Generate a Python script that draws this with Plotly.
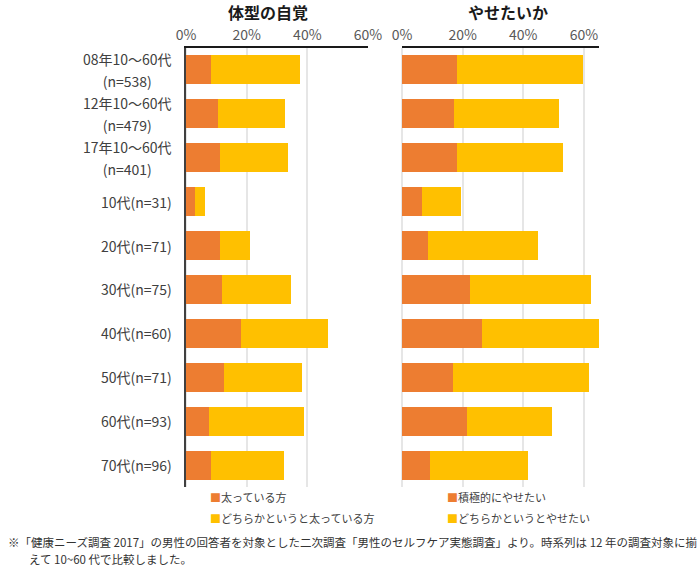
import plotly.graph_objects as go

FONT = "Noto Sans CJK JP"

categories = [
    "08年10～60代<br>(n=538)",
    "12年10～60代<br>(n=479)",
    "17年10～60代<br>(n=401)",
    "10代(n=31)",
    "20代(n=71)",
    "30代(n=75)",
    "40代(n=60)",
    "50代(n=71)",
    "60代(n=93)",
    "70代(n=96)",
]

# 体型の自覚 (%)
futotteiru = [8.2, 10.4, 11.2, 3.0, 11.2, 12.0, 18.2, 12.5, 7.6, 8.3]
dochiraka_futotteiru = [29.3, 22.3, 22.4, 3.3, 9.8, 22.5, 28.6, 25.7, 31.2, 24.1]

# やせたいか (%)
sekkyoku_yasetai = [18.0, 17.0, 18.0, 6.5, 8.5, 22.5, 26.5, 16.9, 21.5, 9.3]
dochiraka_yasetai = [41.6, 34.8, 35.2, 12.9, 36.4, 39.9, 38.4, 44.9, 27.9, 32.3]

left_names = ["太っている方", "どちらかというと太っている方"]
right_names = ["積極的にやせたい", "どちらかというとやせたい"]
panel_titles = ["体型の自覚", "やせたいか"]

tick_vals = [0, 20, 40, 60]
tick_text = ["0%", "20%", "40%", "60%"]

ORANGE = "#ED7D31"
YELLOW = "#FFC000"

W, H = 700, 570
def px(x):
    return x / W
def py(y):
    return 1 - y / H

fig = go.Figure()
fig.add_trace(go.Bar(y=categories, x=futotteiru, orientation="h", name=left_names[0],
                     marker=dict(color=ORANGE, line=dict(width=0)), xaxis="x", yaxis="y"))
fig.add_trace(go.Bar(y=categories, x=dochiraka_futotteiru, orientation="h", name=left_names[1],
                     marker=dict(color=YELLOW, line=dict(width=0)), xaxis="x", yaxis="y"))
fig.add_trace(go.Bar(y=categories, x=sekkyoku_yasetai, orientation="h", name=right_names[0],
                     marker=dict(color=ORANGE, line=dict(width=0)), xaxis="x2", yaxis="y2"))
fig.add_trace(go.Bar(y=categories, x=dochiraka_yasetai, orientation="h", name=right_names[1],
                     marker=dict(color=YELLOW, line=dict(width=0)), xaxis="x2", yaxis="y2"))

ydom = [py(487), py(48)]
xcommon = dict(side="top", tickvals=tick_vals, ticktext=tick_text,
               tickfont=dict(family=FONT, size=14, color="#595959"),
               showgrid=True, gridcolor="#e6e6e6", gridwidth=1.5,
               zeroline=True, zerolinecolor="#e6e6e6", zerolinewidth=1.5,
               showline=True, linecolor="#1a1a1a", linewidth=2,
               ticks="", automargin=False, fixedrange=True)
ycommon = dict(categoryorder="array", categoryarray=categories,
               range=[len(categories) - 0.5, -0.5], showticklabels=False,
               showgrid=False, zeroline=False, ticks="", domain=ydom,
               automargin=False, fixedrange=True)

fig.update_layout(
    width=W, height=H,
    margin=dict(l=0, r=0, t=0, b=0),
    paper_bgcolor="white", plot_bgcolor="white",
    barmode="stack", bargap=0.34, showlegend=False,
    font=dict(family=FONT, color="#404040"),
    xaxis=dict(domain=[px(186), px(368)], range=[0, 60], anchor="y", **xcommon),
    xaxis2=dict(domain=[px(402), px(599)], range=[0, 65], anchor="y2", **xcommon),
    yaxis=dict(anchor="x", showline=True, linecolor="#404040", linewidth=2, **ycommon),
    yaxis2=dict(anchor="x2", showline=False, **ycommon),
)

ann = []
# category labels (outer font size sets the line spacing, inner spans the glyph size)
for c in categories:
    txt = "<br>".join(f"<span style='font-size:14px'>{part}</span>" for part in c.split("<br>"))
    ann.append(dict(text=txt, xref="paper", yref="y", x=px(174), y=c, xanchor="right",
                    yanchor="middle", align="center", showarrow=False,
                    font=dict(family=FONT, size=17, color="#404040")))
# panel titles
for t, cx in zip(panel_titles, [268, 508]):
    ann.append(dict(text="<b>" + t + "</b>", xref="paper", yref="paper", x=px(cx), y=py(12),
                    xanchor="center", yanchor="middle", showarrow=False,
                    font=dict(family=FONT, size=16, color="#1a1a1a")))
# legends
for names, lx in [(left_names, 208), (right_names, 445)]:
    for i, (n, col) in enumerate(zip(names, [ORANGE, YELLOW])):
        ann.append(dict(text=f"<span style='color:{col}'>■</span>{n}", xref="paper", yref="paper",
                        x=px(lx), y=py(497 + 20.7 * i), xanchor="left", yanchor="middle",
                        showarrow=False, font=dict(family=FONT, size=11, color="#404040")))
# footnote
note1 = "※「健康ニーズ調査 2017」の男性の回答者を対象とした二次調査「男性のセルフケア実態調査」より。時系列は 12 年の調査対象に揃"
note2 = "えて 10~60 代で比較しました。"
ann.append(dict(text=note1, xref="paper", yref="paper", x=px(6), y=py(542), xanchor="left",
                yanchor="middle", showarrow=False, font=dict(family=FONT, size=11.5, color="#333333")))
ann.append(dict(text=note2, xref="paper", yref="paper", x=px(27), y=py(559), xanchor="left",
                yanchor="middle", showarrow=False, font=dict(family=FONT, size=11.5, color="#333333")))
fig.update_layout(annotations=ann)

fig.write_html("out.html", config={"displayModeBar": False},
               post_script="document.body.style.margin='0';")
